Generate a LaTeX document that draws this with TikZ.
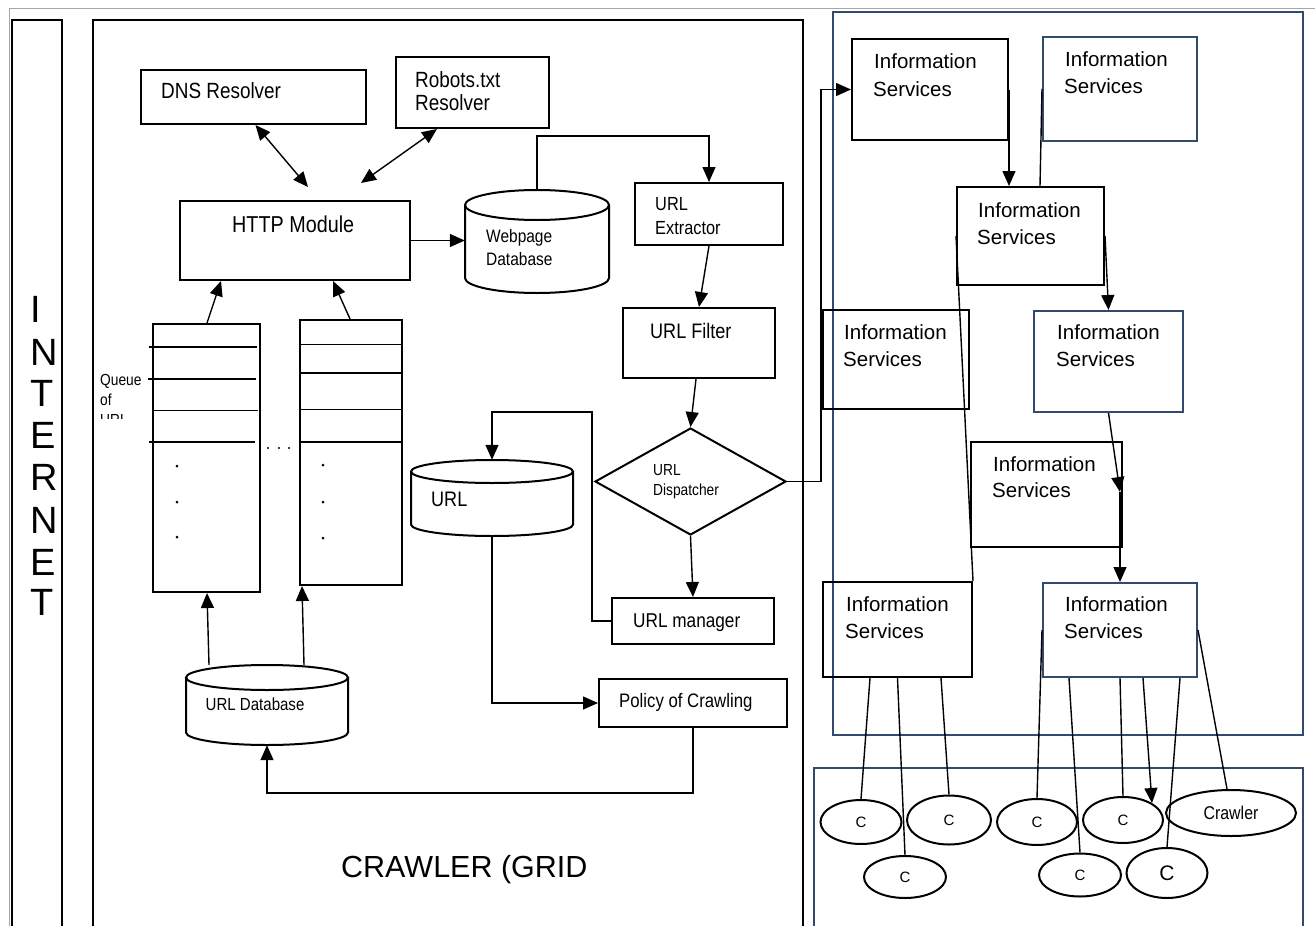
\documentclass[tikz,border=0pt]{standalone}
\usepackage{fontspec}
\setmainfont{Liberation Sans}[FakeStretch=0.86]
\newfontfamily\plainsans{Liberation Sans}
\usetikzlibrary{arrows.meta,shapes.geometric,calc}
\definecolor{isblue}{RGB}{50,74,110}

% database cylinder: name, x1, y1, x2, y2, end radius
\newcommand\dbcyl[6]{%
  \node[draw=none, inner sep=0pt, minimum width={(#4)-(#2)}, minimum height={(#5)-(#3)}]
    (#1) at ({((#2)+(#4))/2},{((#3)+(#5))/2}) {};
  \draw[line width=2pt] (#2,{(#3)+(#6)}) -- (#2,{(#5)-(#6)})
    arc[start angle=180, end angle=0, x radius={((#4)-(#2))/2}, y radius=#6]
    -- (#4,{(#3)+(#6)});
  \draw[line width=2pt] ({((#2)+(#4))/2},{(#3)+(#6)}) ellipse[x radius={((#4)-(#2))/2}, y radius=#6];
}

\begin{document}
\begin{tikzpicture}[x=1pt,y=-1pt,
  box/.style={draw=black, line width=2pt, inner sep=0pt},
  bluebox/.style={draw=isblue, line width=2pt, inner sep=0pt},
  conn/.style={line width=1.4pt},
  arr/.style={conn, -{Triangle[length=15pt,width=13pt]}},
  darr/.style={conn, {Triangle[length=15pt,width=13pt]}-{Triangle[length=15pt,width=13pt]}},
  txt/.style={anchor=base west, inner sep=0pt},
  fs/.style={font=\fontsize{#1}{#1}\selectfont},
  isfont/.style={font=\plainsans\fontsize{20.5}{21}\selectfont},
  cnode/.style={ellipse, draw, line width=2pt, inner sep=0pt},
  cfont/.style={font=\plainsans\fontsize{15}{15}\selectfont},
  bigletter/.style={anchor=base west, inner sep=0pt, font=\plainsans\fontsize{38}{38}\selectfont}]
\useasboundingbox (0,0) rectangle (1315,926);
\clip (0,0) rectangle (1315,926);

% outer frame and containers
\draw[gray!70, line width=1pt] (9,8.5) rectangle (1318,960);
\node[box, anchor=north west, minimum width=50, minimum height=960] (inet) at (11,19) {};
\node[box, anchor=north west, minimum width=710, minimum height=960] (grid) at (92,19) {};
\node[bluebox, anchor=north west, minimum width=470, minimum height=723] (isgrid) at (832,11) {};
\node[bluebox, anchor=north west, minimum width=489, minimum height=200] (pool) at (813,767) {};

% INTERNET column
\node[bigletter] (l1) at (30.5,322) {I};
\node[bigletter] (l2) at (30.5,365) {N};
\node[bigletter] (l3) at (30.5,406) {T};
\node[bigletter] (l4) at (30.5,448) {E};
\node[bigletter] (l5) at (30.5,490) {R};
\node[bigletter] (l6) at (30.5,533) {N};
\node[bigletter] (l7) at (30.5,575) {E};
\node[bigletter] (l8) at (30.5,615) {T};

% crawler components
\node[box, minimum width=225, minimum height=54] (dns) at (253.5,97) {};
\node[box, minimum width=153, minimum height=71] (robots) at (472.5,92.5) {};
\node[box, minimum width=230, minimum height=79] (http) at (295,240.5) {};
\dbcyl{wdb}{465}{190}{609}{293}{15}
\node[box, minimum width=148, minimum height=62] (ext) at (709,214) {};
\node[box, minimum width=152, minimum height=70] (flt) at (699,343) {};
\node[diamond, draw, line width=2pt, inner sep=0pt, minimum width=191, minimum height=107] (disp) at (690.5,481.5) {};
\node[box, minimum width=162, minimum height=46] (mgr) at (693,621) {};
\dbcyl{urldb}{411}{460}{573}{536}{11.5}
\node[box, minimum width=188, minimum height=48] (pol) at (693,703) {};
\dbcyl{udb}{186}{665}{348}{745}{12.5}
\node[box, minimum width=107, minimum height=268] (q1) at (206.5,458) {};
\node[box, minimum width=102, minimum height=265] (q2) at (351,452.5) {};

% queue slots
\draw[conn] (149,347) -- (257,347);
\draw[conn] (148,379) -- (256,379);
\draw[line width=1pt] (152,410) -- (258,410);
\draw[conn] (149,442) -- (255,442);
\draw[line width=1pt] (300,344) -- (402,344);
\draw[conn] (300,373) -- (402,373);
\draw[line width=1pt] (300,409) -- (402,409);
\draw[conn] (300,442) -- (402,442);
\foreach \y in {466,502,537} \fill (177,\y) circle[radius=1.5];
\foreach \y in {465,502,538} \fill (323,\y) circle[radius=1.5];
\foreach \x in {268,279,289} \fill (\x,448) circle[radius=1.2];
\begin{scope}
  \clip (95,360) rectangle (150,418);
  \node[txt,fs=16] (qt1) at (100,385) {Queue};
  \node[txt,fs=16] (qt2) at (100,405) {of};
  \node[txt,fs=16] (qt3) at (100,425) {URL};
\end{scope}

% crawler labels
\node[txt,fs=22] (dns-t) at (161,98) {DNS Resolver};
\node[txt,fs=22] (rob-t1) at (415,87) {Robots.txt};
\node[txt,fs=22] (rob-t2) at (415,110) {Resolver};
\node[txt,fs=23] (http-t) at (232,232) {HTTP Module};
\node[txt,fs=18] (wdb-t1) at (486,242.5) {Webpage};
\node[txt,fs=18] (wdb-t2) at (486,265.5) {Database};
\node[txt,fs=19] (ext-t1) at (655,210.5) {URL};
\node[txt,fs=19] (ext-t2) at (655,234) {Extractor};
\node[txt,fs=21] (flt-t) at (650,338) {URL Filter};
\node[txt,fs=16] (dsp-t1) at (653,475) {URL};
\node[txt,fs=16] (dsp-t2) at (653,495) {Dispatcher};
\node[txt,fs=20] (mgr-t) at (633,627) {URL manager};
\node[txt,fs=21] (url-t) at (431,506) {URL};
\node[txt,fs=19.5] (pol-t) at (619,707) {Policy of Crawling};
\node[txt,fs=17.5] (udb-t) at (205.5,710) {URL Database};
\node[txt,font=\plainsans\fontsize{30.5}{31}\selectfont] (grid-t) at (341,877) {CRAWLER (GRID};

% crawler connectors
\draw[darr] ([xshift=2pt]dns.south) -- ($(http.north)+(13,-13)$);
\draw[darr] ([xshift=-35.5pt]robots.south) -- ($(http.north)+(66,-17)$);
\draw[arr] ([xshift=0.5pt]q1.north) -- ([xshift=-74pt]http.south);
\draw[arr] ([xshift=-1pt]q2.north) -- ([xshift=38pt]http.south);
\draw[arr] (http.east) -- (http.east -| wdb.west);
\draw[arr] (wdb.north) -- ++(0,-54) -| (ext.north);
\draw[arr] (ext.south) -- (flt.north);
\draw[arr] ([xshift=-3pt]flt.south) -- (disp.north);
\draw[arr] (disp.south) -- (mgr.north);
\draw[arr] (mgr.west) -- ++(-19,0) -- ++(0,-209) -| (urldb.north);
\draw[arr] (urldb.south) |- (pol.west);
\draw[arr] (pol.south) -- ++(0,65) -| (udb.south);
\draw[arr] ([xshift=-58pt]udb.north) -- ([xshift=0.5pt]q1.south);
\draw[arr] ([xshift=37pt]udb.north) -- ([xshift=-49pt]q2.south);

% information services grid
\node[box, minimum width=156, minimum height=101] (is1) at (930,89.5) {};
\node[bluebox, minimum width=154, minimum height=104] (is2) at (1120,89) {};
\node[box, minimum width=147, minimum height=98] (is3) at (1030.5,236) {};
\node[box, minimum width=146, minimum height=99] (is4) at (896,359.5) {};
\node[bluebox, minimum width=149, minimum height=101] (is5) at (1108.5,361.5) {};
\node[box, minimum width=151, minimum height=105] (is6) at (1046.5,494.5) {};
\node[box, minimum width=149, minimum height=95] (is7) at (897.5,629.5) {};
\node[bluebox, minimum width=154, minimum height=94] (is8) at (1120,630) {};

\foreach \n/\x/\ya/\yb in {1/874/68.3/96, 2/1065/66.7/93.3, 3/978/217.3/244.3,
    4/844/339.3/366.7, 5/1057/339.3/366.7, 6/993/471/497.3, 7/846/611.7/638.3, 8/1065/611.7/638.3} {
  \node[txt,isfont] (is\n-a) at (\x,\ya) {Information};
  \node[txt,isfont] (is\n-b) at (\x-1,\yb) {Services};
}

\draw[arr] (disp.east) -- ++(34,0) |- (is1.west);
\draw[arr] (is1.east) -- (is1.east |- is3.north);
\draw[conn] (is2.west) -- ([xshift=9.5pt]is3.north);
\draw[arr] (is3.east) -- (is5.north);
\draw[conn] (is3.west) -- (is7.north east);
\coordinate (j56) at (1120,492);
\draw[arr] (is5.south) -- (j56);
\draw[arr] (j56) -- (is8.north);

% crawler pool
\node[cnode, minimum width=81, minimum height=44, cfont] (c1) at (861,822) {C};
\node[cnode, minimum width=84, minimum height=49, cfont] (c2) at (949,820) {C};
\node[cnode, minimum width=82, minimum height=42, cfont] (c3) at (905,877) {C};
\node[cnode, minimum width=80, minimum height=46, cfont] (c4) at (1037,822) {C};
\node[cnode, minimum width=80, minimum height=46, cfont] (c5) at (1123,820) {C};
\node[cnode, minimum width=130, minimum height=46, font=\fontsize{18.5}{19}\selectfont] (cr) at (1231,813) {Crawler};
\node[cnode, minimum width=82, minimum height=43, cfont] (c6) at (1080,875) {C};
\node[cnode, minimum width=81, minimum height=50, font=\plainsans\fontsize{21}{21}\selectfont] (c7) at (1167,873) {C};

\draw[conn] ([xshift=-27.5pt]is7.south) -- (c1.north);
\draw[conn] (is7.south) -- (c3.north);
\draw[conn] ([xshift=43.5pt]is7.south) -- (c2.north);
\draw[conn] (is8.west) -- (c4.north);
\draw[conn] ([xshift=-51pt]is8.south) -- (c6.north);
\draw[conn] (is8.south) -- (c5.north);
\draw[arr] ([xshift=23pt]is8.south) -- (c5.north east);
\draw[conn] ([xshift=60pt]is8.south) -- (c7.north);
\draw[conn] (is8.east) -- ([xshift=-4pt]cr.north);
\end{tikzpicture}
\end{document}
